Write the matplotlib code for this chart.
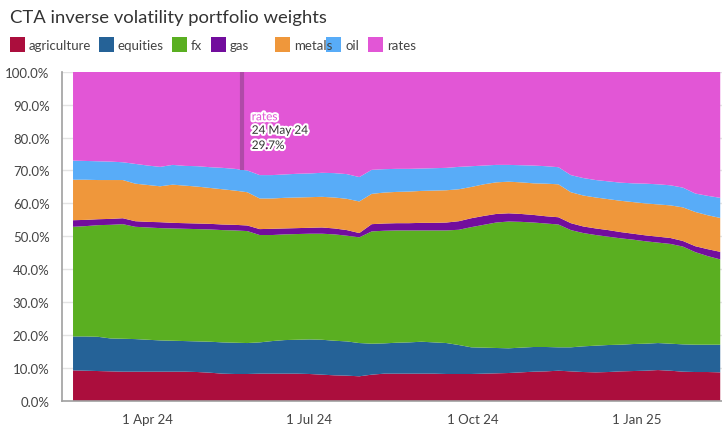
import matplotlib
matplotlib.use("Agg")
import matplotlib.pyplot as plt
import matplotlib.dates as mdates
import matplotlib.patheffects as pe
from matplotlib.patches import Rectangle
import numpy as np
import pandas as pd

plt.rcParams['font.family'] = ['Lato', 'DejaVu Sans']

dates = pd.date_range("2024-02-19", periods=53, freq="7D")

agriculture = [9.3, 9.2, 9.1, 9.0, 8.9, 8.9, 8.9, 8.9, 8.9, 8.9, 8.8, 8.6, 8.3, 8.2, 8.2,
               8.3, 8.3, 8.3, 8.3, 8.2, 8.0, 7.8, 7.7, 7.5, 8.0, 8.3, 8.3, 8.3, 8.3, 8.3,
               8.2, 8.2, 8.2, 8.3, 8.4, 8.5, 8.7, 8.9, 9.0, 9.2, 9.0, 8.8, 8.7, 8.8, 9.0,
               9.1, 9.2, 9.4, 9.2, 8.9, 8.8, 8.8, 8.7]
equities = [10.3, 10.4, 10.4, 10.0, 10.0, 9.9, 9.7, 9.5, 9.4, 9.3, 9.3, 9.4, 9.5, 9.5, 9.4,
            9.5, 9.9, 10.2, 10.3, 10.5, 10.6, 10.5, 10.4, 10.1, 9.4, 9.2, 9.4, 9.5, 9.7, 9.5,
            9.4, 8.8, 8.1, 7.9, 7.7, 7.5, 7.5, 7.5, 7.4, 7.1, 7.3, 7.8, 8.1, 8.2, 8.1,
            8.2, 8.2, 8.2, 8.2, 8.3, 8.3, 8.3, 8.4]
fx = [33.3, 33.5, 33.9, 34.5, 34.8, 34.1, 34.1, 34.1, 34.1, 34.1, 34.1, 34.1, 34.1, 34.1, 34.0,
      32.6, 32.2, 32.1, 32.1, 32.1, 32.2, 32.3, 32.1, 32.1, 34.1, 34.2, 34.1, 34.0, 33.8, 34.0,
      34.2, 35.0, 36.5, 37.3, 38.1, 38.5, 38.2, 37.8, 37.5, 37.3, 35.6, 34.4, 33.6, 32.9, 32.3,
      31.7, 31.1, 30.5, 30.3, 29.7, 28.1, 26.9, 25.9]
gas = [2.0, 1.9, 1.8, 1.8, 1.8, 1.7, 1.7, 1.8, 1.7, 1.7, 1.7, 1.7, 1.7, 1.7, 1.7,
       1.8, 1.9, 1.8, 1.8, 1.8, 1.9, 1.8, 1.7, 1.3, 2.2, 2.2, 2.2, 2.2, 2.3, 2.3,
       2.4, 2.6, 2.7, 2.7, 2.6, 2.5, 2.4, 2.3, 2.2, 2.2, 2.1, 2.0, 2.0, 2.0, 1.9,
       1.8, 1.8, 1.8, 1.8, 1.7, 1.8, 2.1, 2.3]
metals = [12.3, 12.2, 11.9, 11.8, 11.6, 11.4, 11.2, 10.9, 11.6, 11.4, 11.2, 10.9, 10.7, 10.4, 10.1,
          9.3, 9.2, 9.3, 9.3, 9.3, 9.3, 9.4, 9.5, 9.6, 9.2, 9.4, 9.5, 9.6, 9.7, 9.8,
          9.8, 9.7, 9.5, 9.6, 9.6, 9.6, 9.6, 9.6, 9.9, 10.0, 9.4, 9.4, 9.4, 9.4, 9.5,
          9.6, 9.7, 9.8, 9.9, 10.2, 10.4, 10.3, 10.3]
oil = [5.8, 5.7, 5.7, 5.6, 5.4, 6.0, 5.9, 5.9, 6.0, 6.0, 6.2, 6.3, 6.5, 6.6, 6.6,
       7.1, 7.1, 7.1, 7.2, 7.2, 7.3, 7.4, 7.5, 7.4, 7.3, 7.1, 7.0, 6.9, 6.8, 6.8,
       6.8, 6.8, 6.3, 5.7, 5.3, 5.1, 5.2, 5.4, 5.3, 5.2, 5.2, 5.3, 5.3, 5.4, 5.5,
       5.7, 6.0, 6.1, 6.1, 6.0, 5.6, 5.9, 6.1]
rates = [27.0, 27.1, 27.2, 27.3, 27.5, 28.0, 28.5, 28.9, 28.3, 28.6, 28.7, 29.0, 29.2, 29.5, 30.0,
         31.4, 31.4, 31.2, 31.0, 30.9, 30.7, 30.8, 31.1, 32.0, 29.8, 29.6, 29.5, 29.5, 29.4, 29.3,
         29.2, 28.9, 28.7, 28.5, 28.3, 28.3, 28.4, 28.5, 28.7, 29.0, 31.4, 32.3, 32.9, 33.3, 33.7,
         33.9, 34.0, 34.2, 34.5, 35.2, 37.0, 37.7, 38.3]

series_names = ["agriculture", "equities", "fx", "gas", "metals", "oil", "rates"]
series_colors = ["#ab0e3d", "#256297", "#5aaf21", "#720d9d", "#ef973b", "#58acf8", "#e256d6"]

y_ticks = [0, 10, 20, 30, 40, 50, 60, 70, 80, 90, 100]
x_tick_dates = ["2024-04-01", "2024-07-01", "2024-10-01", "2025-01-01"]
x_tick_labels = ["1 Apr 24", "1 Jul 24", "1 Oct 24", "1 Jan 25"]

hover_date = "2024-05-24"
hover_label = ["rates", "24 May 24", "29.7%"]
hover_value = 29.7

W, H = 722, 431
fig = plt.figure(figsize=(W / 100, H / 100), dpi=100)
ax = fig.add_axes([62 / W, (H - 402) / H, (W - 62) / W, (402 - 72.7) / H])

ax.stackplot(dates, agriculture, equities, fx, gas, metals, oil, rates,
             colors=series_colors, linewidth=0, zorder=2)

ax.set_ylim(0, 100)
ax.set_xlim(dates[0] - pd.Timedelta(days=6.2), dates[-1] + pd.Timedelta(days=1))
ax.set_yticks(y_ticks)
ax.set_yticklabels([f"{v:.1f}%" for v in y_ticks])
ax.set_xticks(pd.to_datetime(x_tick_dates))
ax.set_xticklabels(x_tick_labels)
ax.grid(axis='y', color='#e3e3e3', linewidth=1, zorder=0)
ax.set_axisbelow(True)
for s in ['top', 'right']:
    ax.spines[s].set_visible(False)
for s in ['left', 'bottom']:
    ax.spines[s].set_color('#a0a0a0')
    ax.spines[s].set_linewidth(1.2)
    ax.spines[s].set_zorder(5)
ax.tick_params(axis='both', length=0, labelsize=9.5, labelcolor='#444444')
ax.tick_params(axis='y', pad=9)
ax.tick_params(axis='x', pad=9)

# hover marker
hd = pd.Timestamp(hover_date)
ax.plot([hd, hd], [100 - hover_value, 100], color='#b04aa8', linewidth=3, zorder=4,
        solid_capstyle='butt')
stroke = [pe.withStroke(linewidth=3, foreground='white')]
tx = hd + pd.Timedelta(days=5.5)
ax.text(tx, 86.3, hover_label[0], color='#e256d6', fontsize=8.5, va='center', ha='left',
        path_effects=stroke, zorder=6)
ax.text(tx, 82.2, hover_label[1], color='#333333', fontsize=8.5, va='center', ha='left',
        path_effects=stroke, zorder=6)
ax.text(tx, 77.6, hover_label[2], color='#333333', fontsize=8.5, va='center', ha='left',
        path_effects=stroke, zorder=6)

# title
fig.text(10 / W, 1 - 18 / H, "CTA inverse volatility portfolio weights", fontsize=13.3,
         color='#333333', va='center', ha='left')

# legend
leg_x = [10, 99, 172, 211, 275, 326, 368]
for name, col, lx in zip(series_names, series_colors, leg_x):
    fig.patches.append(Rectangle((lx / W, 1 - 53 / H), 15 / W, 15 / H, transform=fig.transFigure,
                                 facecolor=col, edgecolor='none'))
    fig.text((lx + 19) / W, 1 - 45.5 / H, name, fontsize=9.5, color='#444444',
             va='center', ha='left')

fig.savefig("out.png", dpi=100)
